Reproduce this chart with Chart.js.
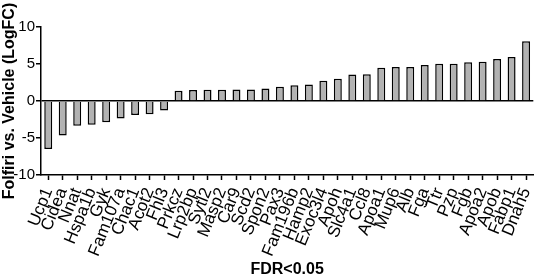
<!DOCTYPE html>
<html>
<head>
<meta charset="utf-8">
<script src="https://cdn.jsdelivr.net/npm/chart.js@4"></script>
<style>
  html, body { margin: 0; padding: 0; background: #fff; }
</style>
</head>
<body>
<canvas id="fdr" width="550" height="278"></canvas>
<script>
let genes = [
    'Ucp1', 'Cidea', 'Nnat', 'Hspa1b', 'Gyk', 'Fam107a', 'Chac1', 'Acot2', 'Fhl3',
    'Prkcz', 'Lrp2bp', 'Sytl2', 'Masp2', 'Car9', 'Scd2', 'Spon2', 'Pax3', 'Fam196b',
    'Hamp2', 'Exoc3l4', 'Apoh', 'Slc4a1', 'Ccl8', 'Apoa1', 'Mup6', 'Alb', 'Fga',
    'Ttr', 'Pzp', 'Fgb', 'Apoa2', 'Apob', 'Fabp1', 'Dnah5'
];

let logFC = [
    -6.5, -4.65, -3.35, -3.2, -2.86, -2.37, -1.88, -1.8, -1.3,
    1.4, 1.47, 1.52, 1.52, 1.56, 1.56, 1.7, 1.92, 2.14,
    2.23, 2.72, 2.99, 3.57, 3.6, 4.5, 4.6, 4.6, 4.87,
    5.05, 5.05, 5.23, 5.32, 5.67, 5.94, 8.08
];

let yTicks = [-10, -5, 0, 5, 10];

const font = "'Liberation Sans', Arial, sans-serif";
Chart.defaults.font.family = font;
Chart.defaults.color = '#000';

const dataFdr = {
    labels: genes,
    datasets: [{
        data: logFC,
        backgroundColor: 'rgb(178, 178, 178)',
        borderColor: '#000',
        borderWidth: 1.5,
        categoryPercentage: 1,
        barPercentage: 0.55
    }]
};

const configFdr = {
    type: 'bar',
    data: dataFdr,
    options: {
        responsive: false,
        animation: false,
        layout: { padding: { top: 27, right: 1, left: 0, bottom: 0 } },
        plugins: {
            legend: { display: false },
            tooltip: { enabled: false }
        },
        scales: {
            x: {
                border: { color: '#000', width: 1.5 },
                grid: {
                    display: true,
                    drawOnChartArea: false,
                    offset: false,
                    tickLength: 5,
                    tickColor: '#000',
                    tickWidth: 1.5
                },
                ticks: {
                    autoSkip: false,
                    minRotation: 68,
                    maxRotation: 68,
                    padding: 5,
                    font: { size: 17 }
                },
                title: {
                    display: true,
                    text: 'FDR<0.05',
                    font: { size: 16, weight: 'bold', lineHeight: 1 },
                    padding: 0
                },
                afterFit: function (scale) { scale.height = 103; }
            },
            y: {
                min: -10,
                max: 10,
                afterBuildTicks: function (scale) {
                    scale.ticks = yTicks.map(v => ({ value: v }));
                },
                border: { color: '#000', width: 1.5 },
                grid: {
                    color: ctx => ctx.tick && ctx.tick.value === 0 ? '#000' : 'rgba(0,0,0,0)',
                    lineWidth: 1.5,
                    tickLength: 5,
                    tickColor: '#000',
                    tickWidth: 1.5
                },
                ticks: {
                    padding: 1,
                    font: { size: 15 }
                },
                title: {
                    display: true,
                    text: 'Folfiri vs. Vehicle (LogFC)',
                    font: { size: 16, weight: 'bold', lineHeight: 1.2 },
                    padding: 0
                },
                afterFit: function (scale) { scale.width = 41; }
            }
        }
    }
};

const chartFdr = new Chart(
    document.getElementById('fdr'),
    configFdr
);
</script>
</body>
</html>
